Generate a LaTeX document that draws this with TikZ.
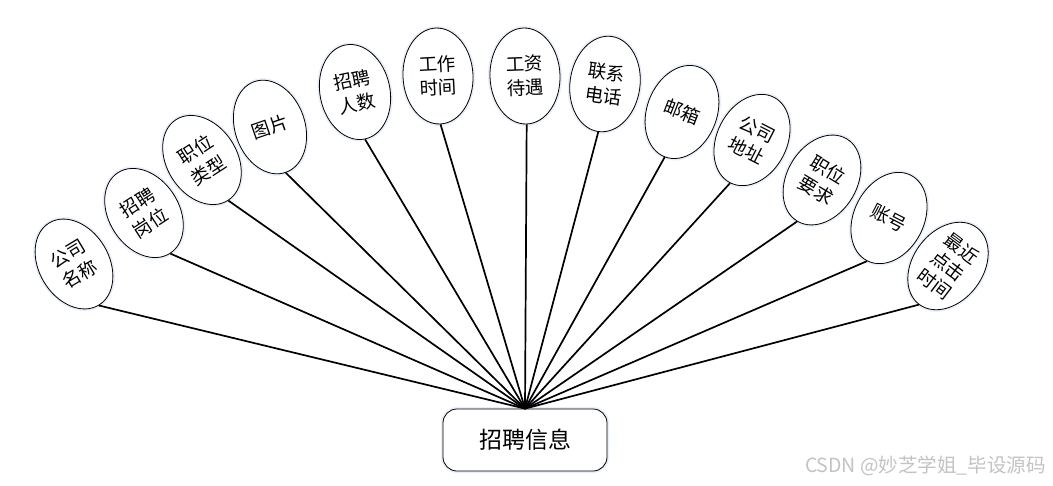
\documentclass[tikz,border=0pt]{standalone}
\usepackage{fontspec}
\usetikzlibrary{shapes.geometric}
\setmainfont{Noto Sans CJK SC}
\newfontfamily\wmfont{Noto Sans CJK SC}
\begin{document}
\begin{tikzpicture}[x=1pt,y=-1pt,
  attr/.style={ellipse, draw=black, line width=0.8pt, fill=white,
    minimum width=70pt, minimum height=96pt, inner sep=0pt,
    align=center, font=\fontsize{18.5}{24}\selectfont,
    preaction={draw={rgb,255:red,232;green,238;blue,250}, line width=4pt}},
  ent/.style={rectangle, rounded corners=14pt, draw=black, line width=0.8pt, fill=white,
    minimum width=164pt, minimum height=62pt, inner sep=0pt,
    font=\fontsize{23}{26}\selectfont,
    preaction={draw={rgb,255:red,232;green,238;blue,250}, line width=4pt}},
  link/.style={draw=black, line width=1.7pt}]
\useasboundingbox (0,0) rectangle (1053,485);
\fill[white] (0,0) rectangle (1053,485);

\node[ent] (info) at (525,440) {招聘信息};

\node[attr, rotate=31] (a1) at (74,264) {公司\\名称};
\node[attr, rotate=33] (a2) at (144,213) {招聘\\岗位};
\node[attr, rotate=33] (a3) at (202,160) {职位\\类型};
\node[attr, rotate=19] (a4) at (270,127) {图片};
\node[attr, rotate=12] (a5) at (355,92) {招聘\\人数};
\node[attr, rotate=3] (a6) at (438,76) {工作\\时间};
\node[attr, rotate=2] (a7) at (525,76) {工资\\待遇};
\node[attr, rotate=-8] (a8) at (605,84) {联系\\电话};
\node[attr, rotate=-21] (a9) at (682,112) {邮箱};
\node[attr, rotate=-27] (a10) at (752,140) {公司\\地址};
\node[attr, rotate=-31] (a11) at (822,180) {职位\\要求};
\node[attr, rotate=-27] (a12) at (889,218) {账号};
\node[attr, rotate=-37, font=\fontsize{18.5}{22}\selectfont] (a13) at (948,266) {最近\\点击\\时间};

\foreach \n in {a1,a2,a3,a4,a5,a6,a7,a8,a9,a10,a11,a12,a13}
  \draw[link] (info.north) -- (\n.south);

\node[font=\fontsize{19.5}{22}\selectfont\wmfont, text={rgb,255:red,195;green,195;blue,195}, anchor=east, inner sep=0pt] (wm) at (1046,466) {CSDN @妙芝学姐\_毕设源码};
\end{tikzpicture}
\end{document}
